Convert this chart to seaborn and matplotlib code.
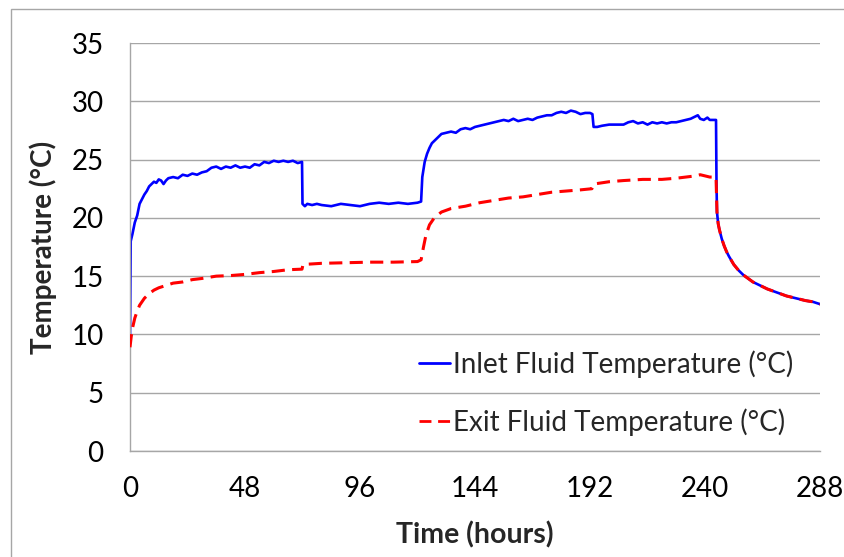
import matplotlib
matplotlib.use("Agg")
import matplotlib.pyplot as plt
import seaborn as sns
import pandas as pd
from matplotlib.patches import Rectangle

# inlet fluid temperature (hours, deg C)
inlet_hours = [0, 0.3, 1, 2, 3, 4, 5, 6, 7, 8, 9, 10, 11, 12, 13, 14, 15, 16, 18, 20,
               22, 24, 26, 28, 30, 32, 34, 36, 38, 40, 42, 44, 46, 48, 50, 52, 54, 56, 58, 60,
               62, 64, 66, 68, 70, 71.8, 72, 73, 74, 76, 78, 80, 84, 88, 92, 96, 100, 104, 108, 112,
               116, 120, 121.5, 122, 123, 124, 125, 126, 128, 130, 132, 134, 136, 138, 140, 142, 144, 146, 148, 150,
               152, 154, 156, 158, 160, 162, 164, 166, 168, 170, 172, 174, 176, 178, 180, 182, 184, 186, 188, 190,
               192, 193, 193.5, 195, 197, 200, 203, 206, 208, 210, 212, 214, 216, 218, 220, 222, 224, 226, 228, 230,
               232, 234, 236, 237, 238, 239.5, 241, 242, 244, 244.6, 244.8, 245, 245.5, 246, 247, 248, 249, 250, 252, 254,
               256, 258, 260, 263, 266, 270, 274, 278, 282, 285, 288]
inlet_temp = [9.3, 18.0, 18.6, 19.6, 20.2, 21.2, 21.6, 22.0, 22.3, 22.7, 22.9, 23.1, 23.0, 23.3, 23.2, 22.9, 23.2, 23.4, 23.5, 23.4,
              23.7, 23.6, 23.8, 23.7, 23.9, 24.0, 24.3, 24.4, 24.2, 24.4, 24.3, 24.5, 24.3, 24.4, 24.3, 24.6, 24.5, 24.8, 24.7, 24.9,
              24.8, 24.9, 24.8, 24.9, 24.7, 24.8, 21.2, 21.0, 21.2, 21.1, 21.2, 21.1, 21.0, 21.2, 21.1, 21.0, 21.2, 21.3, 21.2, 21.3,
              21.2, 21.3, 21.4, 23.5, 24.8, 25.5, 26.0, 26.4, 26.8, 27.2, 27.3, 27.4, 27.3, 27.6, 27.7, 27.6, 27.8, 27.9, 28.0, 28.1,
              28.2, 28.3, 28.4, 28.3, 28.5, 28.3, 28.4, 28.5, 28.4, 28.6, 28.7, 28.8, 28.8, 29.0, 29.1, 29.0, 29.2, 29.1, 28.9, 29.0,
              29.0, 28.9, 27.8, 27.8, 27.9, 28.0, 28.0, 28.0, 28.2, 28.3, 28.1, 28.2, 28.0, 28.2, 28.1, 28.2, 28.1, 28.2, 28.2, 28.3,
              28.4, 28.5, 28.7, 28.8, 28.5, 28.4, 28.6, 28.4, 28.4, 28.4, 23.0, 20.5, 19.5, 19.0, 18.2, 17.6, 17.1, 16.7, 16.0, 15.5,
              15.1, 14.8, 14.5, 14.2, 13.9, 13.6, 13.3, 13.1, 12.9, 12.8, 12.6]

# exit fluid temperature
exit_hours = [0, 0.5, 1, 2, 3, 4, 6, 8, 10, 12, 15, 18, 22, 26, 30, 36, 42, 48, 54, 60,
              66, 71.8, 72.2, 80, 90, 100, 110, 120, 121.5, 122.5, 123.5, 125, 127, 130, 134, 140, 146, 152, 158, 164,
              170, 176, 182, 188, 192.8, 193.5, 200, 206, 214, 222, 228, 232, 236, 238, 240, 242, 244, 244.6, 245, 245.5,
              246, 247, 248, 249, 250, 252, 254, 256, 258, 260, 263, 266, 270, 274, 278, 282, 285, 288]
exit_temp = [8.9, 9.8, 10.5, 11.4, 12.0, 12.5, 13.1, 13.5, 13.8, 14.0, 14.2, 14.4, 14.5, 14.7, 14.8, 15.0, 15.05, 15.15, 15.3, 15.4,
             15.55, 15.6, 16.0, 16.1, 16.15, 16.2, 16.2, 16.25, 16.4, 17.5, 18.5, 19.4, 20.0, 20.5, 20.8, 21.0, 21.3, 21.5, 21.7, 21.8,
             22.0, 22.2, 22.3, 22.4, 22.5, 22.9, 23.1, 23.2, 23.3, 23.3, 23.4, 23.5, 23.6, 23.7, 23.6, 23.5, 23.5, 23.5, 20.5, 19.5,
             19.0, 18.2, 17.6, 17.1, 16.7, 16.0, 15.5, 15.1, 14.8, 14.5, 14.2, 13.9, 13.6, 13.3, 13.1, 12.9, 12.8, 12.6]

x_ticks = [0, 48, 96, 144, 192, 240, 288]
y_ticks = [0, 5, 10, 15, 20, 25, 30, 35]

sns.set_style("white")
plt.rcParams['font.family'] = ['Lato', 'DejaVu Sans']
grey = '#a6a6a6'

fig = plt.figure(figsize=(8.45, 5.57), dpi=100)
ax = fig.add_axes([130 / 845, 1 - 451 / 557, 690 / 845, 408 / 557])

df_in = pd.DataFrame({'hours': inlet_hours, 'temp': inlet_temp})
df_out = pd.DataFrame({'hours': exit_hours, 'temp': exit_temp})
sns.lineplot(data=df_out, x='hours', y='temp', ax=ax, color='#ff0000', lw=2.2,
             estimator=None, sort=False, zorder=3)
ax.lines[-1].set_dashes([4.3, 2.4])
ax.lines[-1].set_label('Exit Fluid Temperature (°C)')
sns.lineplot(data=df_in, x='hours', y='temp', ax=ax, color='#0000ff', lw=1.9,
             estimator=None, sort=False, zorder=2, label='Inlet Fluid Temperature (°C)')

ax.set_xlim(0, 288)
ax.set_ylim(0, 35)
ax.set_xticks(x_ticks)
ax.set_yticks(y_ticks)
ax.yaxis.grid(True, color=grey, lw=1)
ax.xaxis.grid(False)
for s in ['top', 'right']:
    ax.spines[s].set_visible(False)
for s in ['left', 'bottom']:
    ax.spines[s].set_color(grey)
    ax.spines[s].set_linewidth(1)
ax.tick_params(axis='both', direction='out', length=6, width=1, color=grey,
               labelsize=20, pad=12, labelcolor='black')
ax.tick_params(axis='y', pad=13)
ax.set_xlabel('Time (hours)', fontsize=20.5, fontweight='bold', labelpad=14)
ax.set_ylabel('Temperature (°C)', fontsize=20, fontweight='bold', labelpad=10)

handles, labels = ax.get_legend_handles_labels()
order = [labels.index('Inlet Fluid Temperature (°C)'), labels.index('Exit Fluid Temperature (°C)')]
leg = ax.legend([handles[i] for i in order], [labels[i] for i in order], loc='center left',
                bbox_to_anchor=(0.403, 0.142), borderaxespad=0, frameon=False, fontsize=20,
                handlelength=1.1, handletextpad=0.1, labelspacing=1.1)
for h in leg.get_lines():
    h.set_linewidth(2.0)

fig.add_artist(Rectangle((11 / 845, -0.1), 1.2, 1.1 - 9 / 557, transform=fig.transFigure,
                         fill=False, edgecolor=grey, lw=1))

fig.savefig('out.png', dpi=100)
